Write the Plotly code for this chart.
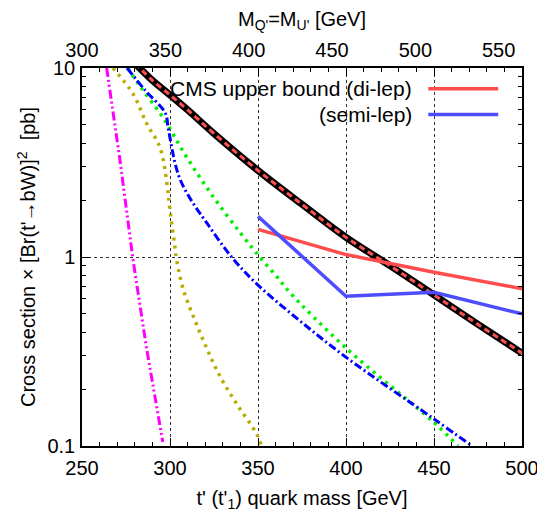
import plotly.graph_objects as go

# ---------------- data ----------------
theory_m = [280, 290, 300, 310, 325, 350, 375, 400, 425, 450, 475, 500]
theory_v = [10.6, 8.6, 7.2, 6.0, 4.5, 2.87, 1.9, 1.27, 0.9, 0.63, 0.44, 0.31]

dilep_m = [350, 400, 450, 500]
dilep_v = [1.40, 1.03, 0.83, 0.68]

semilep_m = [350, 400, 450, 500]
semilep_v = [1.64, 0.62, 0.65, 0.50]

blue_m = [275.6, 286, 297.2, 299, 301, 303, 306, 312, 321, 335, 350, 373, 400, 450, 471.6]
blue_v = [10, 7.6, 5.8, 4.8, 3.8, 3.1, 2.54, 2.0, 1.51, 1.0, 0.71, 0.466, 0.295, 0.139, 0.1]

green_m = [276, 283, 296, 309.5, 324.6, 340, 351, 361, 368, 400, 450, 463.6]
green_v = [10, 8.0, 5.47, 3.37, 2.08, 1.34, 1.0, 0.78, 0.65, 0.33, 0.133, 0.1]

olive_m = [267.6, 279, 286.8, 294.3, 298.5, 300, 302.8, 303.8, 307.6, 314, 320.8, 328.4, 337.9, 349.2, 352]
olive_v = [10, 7.3, 5.07, 3.8, 2.35, 1.77, 1.13, 0.96, 0.67, 0.466, 0.33, 0.234, 0.167, 0.116, 0.1]

magenta_m = [264, 271.6, 279, 286.8, 295.9]
magenta_v = [10, 3.24, 0.965, 0.324, 0.105]

x_ticks = [250, 300, 350, 400, 450, 500]
x2_ticks = [300, 350, 400, 450, 500, 550]
y_ticks = [0.1, 1, 10]
y_ticklabels = ["0.1", "1", "10"]
y_minor = [0.2, 0.3, 0.4, 0.5, 0.6, 0.7, 0.8, 0.9, 2, 3, 4, 5, 6, 7, 8, 9]

legend_labels = ["CMS upper bound (di-lep)", "(semi-lep)"]

FONT = "Liberation Sans, Arial, Helvetica, sans-serif"

fig = go.Figure()

fig.add_trace(go.Scatter(x=magenta_m, y=magenta_v, mode="lines",
                         line=dict(color="#ff00ff", width=3, dash="9px,3px,2px,3px,2px,3px"),
                         showlegend=False))
fig.add_trace(go.Scatter(x=olive_m, y=olive_v, mode="lines", line_shape="spline",
                         line=dict(color="#b5ad00", width=3.5, dash="3px,5px"),
                         showlegend=False))
fig.add_trace(go.Scatter(x=green_m, y=green_v, mode="lines", line_shape="spline",
                         line=dict(color="#00ee00", width=3.5, dash="3px,5px"),
                         showlegend=False))
fig.add_trace(go.Scatter(x=blue_m, y=blue_v, mode="lines", line_shape="spline",
                         line=dict(color="#0000ff", width=3, dash="8px,3px,2px,3px"),
                         showlegend=False))
fig.add_trace(go.Scatter(x=theory_m, y=theory_v, mode="lines", line_shape="spline",
                         line=dict(color="black", width=7), showlegend=False))
fig.add_trace(go.Scatter(x=theory_m, y=theory_v, mode="lines", line_shape="spline",
                         line=dict(color="#ff5050", width=3, dash="6px,4px"), showlegend=False))
fig.add_trace(go.Scatter(x=dilep_m, y=dilep_v, mode="lines",
                         line=dict(color="#ff4d4d", width=3.5), showlegend=False))
fig.add_trace(go.Scatter(x=semilep_m, y=semilep_v, mode="lines",
                         line=dict(color="#4d4dff", width=3.5), showlegend=False))
# invisible trace to activate the top axis
fig.add_trace(go.Scatter(x=[300, 564], y=[1, 1], xaxis="x2", mode="lines",
                         line=dict(width=0), opacity=0, hoverinfo="skip", showlegend=False))

# legend box (hides grid) and custom legend entries
fig.add_shape(type="rect", xref="paper", yref="paper", x0=0.21, x1=1.0, y0=0.835, y1=1.0,
              fillcolor="white", line=dict(width=0), layer="below")
legend_colors = ["#ff4d4d", "#4d4dff"]
legend_y = [0.945, 0.877]
for lab, col, yy in zip(legend_labels, legend_colors, legend_y):
    fig.add_annotation(x=0.755, y=yy, xref="paper", yref="paper", text=lab, showarrow=False,
                       xanchor="right", yanchor="middle", font=dict(size=21, color="black", family=FONT))
    fig.add_shape(type="line", xref="paper", yref="paper", x0=0.787, x1=0.946, y0=yy, y1=yy,
                  line=dict(color=col, width=3.5))

# the page body has an 8px default margin: compensate in the figure margins
fig.update_layout(
    width=545, height=512,
    margin=dict(l=74, r=31, t=60, b=74, autoexpand=False),
    plot_bgcolor="white", paper_bgcolor="white",
    font=dict(family=FONT, size=20, color="black"),
    xaxis=dict(range=[250, 500], tickvals=x_ticks, ticks="inside", ticklen=8, tickwidth=1,
               tickcolor="black", showline=True, linecolor="black", linewidth=1.5, mirror="ticks",
               showgrid=True, gridcolor="#333", griddash="dot", gridwidth=1, zeroline=False,
               automargin=False, ticklabelstandoff=3,
               minor=dict(dtick=10, tick0=250, ticks="inside", ticklen=4, tickcolor="black", showgrid=False),
               title=dict(text="t' (t'<sub>1</sub>) quark mass [GeV]", standoff=13, font=dict(size=20))),
    xaxis2=dict(range=[300, 564], overlaying="x", side="top", anchor="y", tickvals=x2_ticks,
                ticks="", showgrid=False, zeroline=False, showline=False, automargin=False,
                ticklabelstandoff=6,
                title=dict(text="M<sub>Q'</sub>=M<sub>U'</sub> [GeV]", standoff=17, font=dict(size=20))),
    yaxis=dict(type="log", range=[-1, 1], tickvals=y_ticks, ticktext=y_ticklabels, ticks="inside",
               ticklen=8, tickcolor="black", showline=True, linecolor="black", linewidth=1.5,
               mirror="ticks", showgrid=True, gridcolor="#333", griddash="dot", gridwidth=1,
               zeroline=False, automargin=False, ticklabelstandoff=1,
               minor=dict(tickvals=y_minor, ticks="inside", ticklen=4, tickcolor="black", showgrid=False),
               title=dict(text="Cross section × [Br(t'→bW)]<sup>2</sup>  [pb]", standoff=6,
                          font=dict(size=20))),
)

fig.write_html("out.html")
